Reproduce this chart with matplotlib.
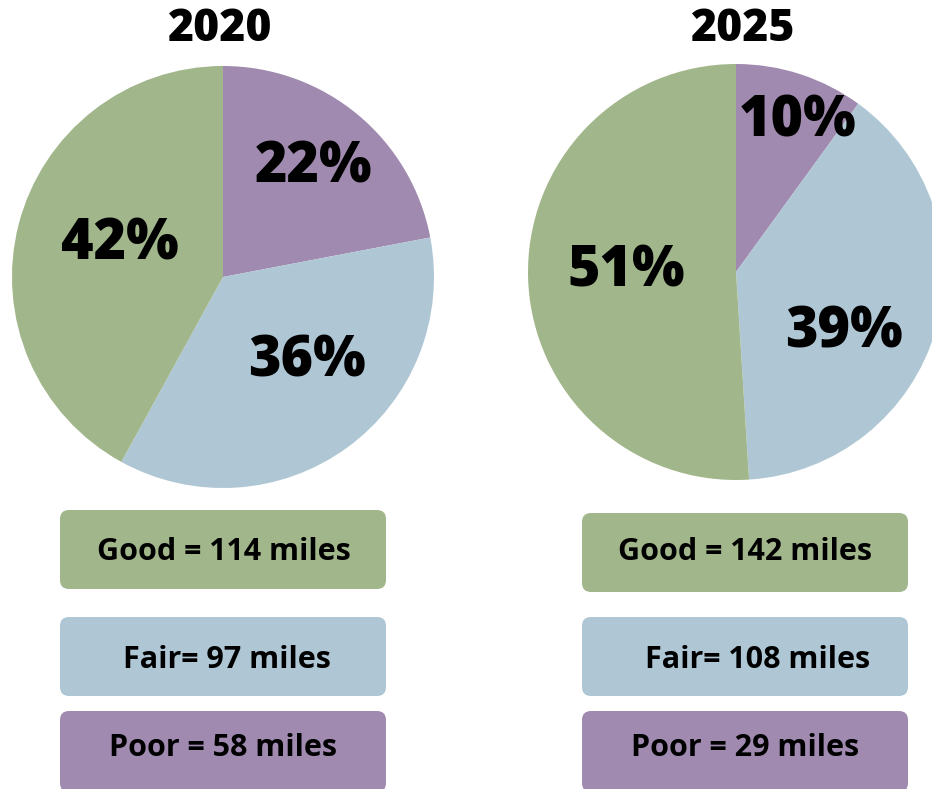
import matplotlib
matplotlib.use("Agg")
import matplotlib.pyplot as plt
from matplotlib.patches import FancyBboxPatch

# ---- data ----
years = ["2020", "2025"]
categories = ["Good", "Fair", "Poor"]
pct_2020 = [42, 36, 22]
pct_2025 = [51, 39, 10]
miles_2020 = [114, 97, 58]
miles_2025 = [142, 108, 29]
legend_fmt = ["{} = {} miles", "{}= {} miles", "{} = {} miles"]

GREEN = "#a1b68a"
BLUE = "#afc7d5"
PURPLE = "#a08ab0"
colors = [GREEN, BLUE, PURPLE]

W, H = 932, 789
fig = plt.figure(figsize=(W / 100, H / 100), dpi=100)
ax = fig.add_axes([0, 0, 1, 1])
ax.set_xlim(0, W)
ax.set_ylim(0, H)
ax.set_aspect("equal")
ax.axis("off")

def Y(ypx):
    return H - ypx

FONT = ["Open Sans", "DejaVu Sans"]

panels = [
    dict(year=years[0], pct=pct_2020, miles=miles_2020, cx=223, cy=277, r=211,
         title_x=220,
         lab_pos=[(120, 245), (314, 168), (307, 362)],
         box_x=60, box_w=326, box_y=[(510, 589), (617, 696), (711, 792)],
         txt_pos=[(224, 552), (227, 660), (223, 748)]),
    dict(year=years[1], pct=pct_2025, miles=miles_2025, cx=736, cy=272, r=208,
         title_x=743,
         lab_pos=[(626, 272), (798, 122), (844, 333)],
         box_x=582, box_w=326, box_y=[(513, 592), (617, 696), (711, 792)],
         txt_pos=[(745, 552), (758, 660), (745, 748)]),
]
# lab_pos order: Good, Poor, Fair -> map to pct index
lab_idx = [0, 2, 1]

for p in panels:
    # pie: Poor, Fair, Good clockwise from top
    vals = p["pct"][::-1]
    cols = colors[::-1]
    ax.pie(vals, colors=cols, startangle=90, counterclock=False,
           center=(p["cx"], Y(p["cy"])), radius=p["r"], frame=True,
           wedgeprops=dict(linewidth=0))
    ax.text(p["title_x"], Y(29), p["year"], ha="center", va="center",
            fontsize=32, fontweight="heavy", family=FONT, color="black")
    for (lx, ly), i in zip(p["lab_pos"], lab_idx):
        ax.text(lx, Y(ly), f"{p['pct'][i]}%", ha="center", va="center",
                fontsize=40, fontweight="heavy", family=FONT, color="black")
    for i, cat in enumerate(categories):
        y0, y1 = p["box_y"][i]
        box = FancyBboxPatch((p["box_x"], Y(y1)), p["box_w"], y1 - y0,
                             boxstyle="round,pad=0,rounding_size=9",
                             facecolor=colors[i], edgecolor="none")
        ax.add_patch(box)
        tx, ty = p["txt_pos"][i]
        ax.text(tx, Y(ty), legend_fmt[i].format(cat, p["miles"][i]),
                ha="center", va="center", fontsize=22, fontweight="bold",
                family=FONT, color="black")

ax.set_xlim(0, W)
ax.set_ylim(0, H)
ax.axis("off")
fig.savefig("out.png", dpi=100)
